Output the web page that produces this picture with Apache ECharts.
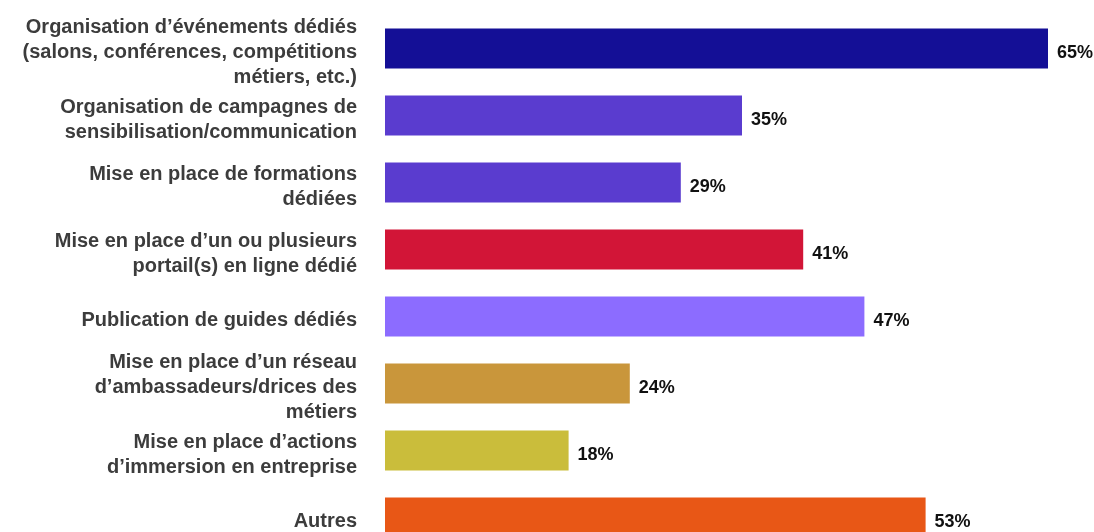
<!DOCTYPE html>
<html>
<head>
<meta charset="utf-8">
<script src="https://cdn.jsdelivr.net/npm/echarts@6/dist/echarts.min.js"></script>
<style>
  html, body { margin: 0; padding: 0; background: #fff; overflow: hidden; }
  /* the last bar is cut by the bottom edge in the original, so the chart is taller than the window */
  #chartArea { width: 1100px; height: 555px; }
</style>
</head>
<body>
<div id="chartArea"></div>
<script>
// categories, top to bottom
var categories = [
    "Organisation d\u2019\u00e9v\u00e9nements d\u00e9di\u00e9s\n(salons, conf\u00e9rences, comp\u00e9titions\nm\u00e9tiers, etc.)",
    "Organisation de campagnes de\nsensibilisation/communication",
    "Mise en place de formations\nd\u00e9di\u00e9es",
    "Mise en place d\u2019un ou plusieurs\nportail(s) en ligne d\u00e9di\u00e9",
    "Publication de guides d\u00e9di\u00e9s",
    "Mise en place d\u2019un r\u00e9seau\nd\u2019ambassadeurs/drices des\nm\u00e9tiers",
    "Mise en place d\u2019actions\nd\u2019immersion en entreprise",
    "Autres"
];
var values = [65, 35, 29, 41, 47, 24, 18, 53];
var barColors = ['#140f96', '#5a3ccf', '#5a3ccf', '#d21537', '#8c6cff', '#c9963b', '#cabd3b', '#e85716'];

var chartDom = document.getElementById('chartArea');
var myChart = echarts.init(chartDom);
var option;

var data = [];
for (var i = 0; i < values.length; i++) {
    data.push({ value: values[i], itemStyle: { color: barColors[i] } });
}

option = {
    animation: false,
    // grid 0 holds the bars, grid 1 only the category labels (sit a few px lower)
    grid: [
        { left: 385, top: 15, width: 714, bottom: 4, containLabel: false },
        { left: 385, top: 19, width: 714, bottom: 0, containLabel: false }
    ],
    xAxis: [
        { type: 'value', gridIndex: 0, min: 0, max: 70, show: false },
        { type: 'value', gridIndex: 1, min: 0, max: 70, show: false }
    ],
    yAxis: [
        {
            type: 'category',
            gridIndex: 0,
            inverse: true,
            data: categories,
            axisLine: { show: false },
            axisTick: { show: false },
            axisLabel: { show: false }
        },
        {
            type: 'category',
            gridIndex: 1,
            inverse: true,
            data: categories,
            axisLine: { show: false },
            axisTick: { show: false },
            axisLabel: {
                interval: 0,
                margin: 28,
                align: 'right',
                color: '#3c3c3c',
                fontFamily: 'Liberation Sans, Arial, sans-serif',
                fontWeight: 'bold',
                fontSize: 20,
                lineHeight: 25
            }
        }
    ],
    series: [{
        type: 'bar',
        xAxisIndex: 0,
        yAxisIndex: 0,
        data: data,
        barWidth: 40,
        label: {
            show: true,
            position: 'right',
            distance: 9,
            offset: [0, 5],
            formatter: '{c}%',
            color: '#111',
            fontFamily: 'Liberation Sans, Arial, sans-serif',
            fontWeight: 'bold',
            fontSize: 18
        }
    }]
};

option && myChart.setOption(option);
</script>
</body>
</html>
